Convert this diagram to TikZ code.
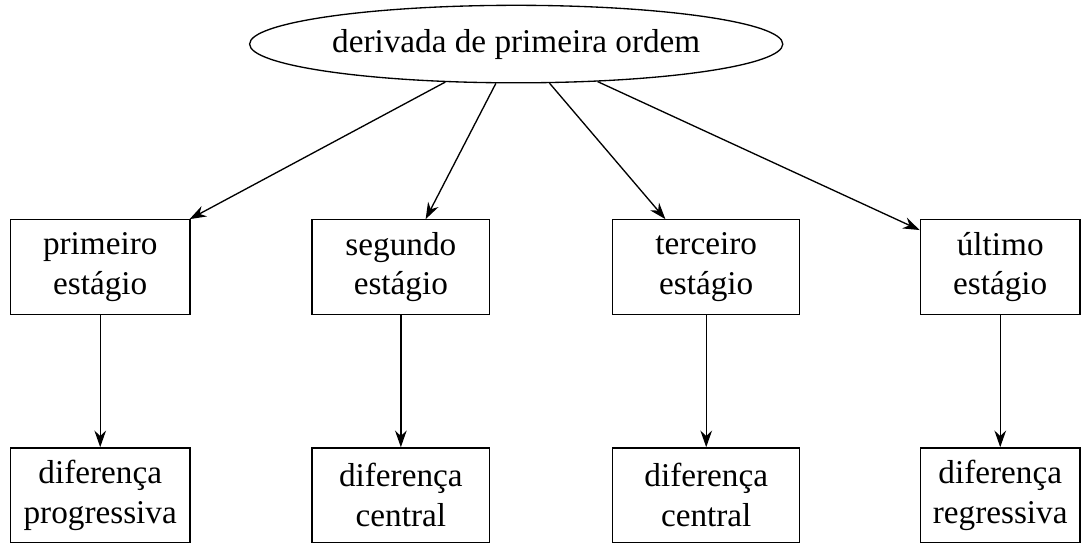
\documentclass[tikz,border=0pt]{standalone}
\usepackage{fontspec}
\setmainfont{Liberation Serif}
\usetikzlibrary{shapes.geometric, arrows.meta, positioning}

\tikzset{
  etapa/.style={draw, rectangle, align=center, minimum height=1cm, inner sep=2pt},
  raiz/.style={draw, ellipse, minimum width=5.64cm, minimum height=0.82cm, inner sep=0pt},
  seta/.style={-{Stealth[length=5pt,width=3.5pt]}}
}

\begin{document}
\begin{tikzpicture}
  \useasboundingbox (0,0) rectangle (11.54,-5.766);
  \node[raiz] (D) at (5.46,-0.466) {derivada de primeira ordem};
  \node[etapa, minimum width=1.9cm] (E1) at (1.06,-2.825) {primeiro\\estágio};
  \node[etapa, minimum width=1.88cm] (E2) at (4.24,-2.825) {segundo\\estágio};
  \node[etapa, minimum width=1.98cm] (E3) at (7.47,-2.825) {terceiro\\estágio};
  \node[etapa, minimum width=1.69cm] (E4) at (10.58,-2.825) {último\\estágio};
  \node[etapa, minimum width=1.9cm] (F1) at (1.06,-5.237) {diferença\\progressiva};
  \node[etapa, minimum width=1.88cm] (F2) at (4.24,-5.237) {diferença\\central};
  \node[etapa, minimum width=1.98cm] (F3) at (7.47,-5.237) {diferença\\central};
  \node[etapa, minimum width=1.69cm] (F4) at (10.58,-5.237) {diferença\\regressiva};
  \draw[seta] (D) -- (E1);
  \draw[seta] (D) -- (E2);
  \draw[seta] (D) -- (E3);
  \draw[seta] (D) -- (E4);
  \draw[seta] (E1) -- (F1);
  \draw[seta] (E2) -- (F2);
  \draw[seta] (E3) -- (F3);
  \draw[seta] (E4) -- (F4);
\end{tikzpicture}
\end{document}
